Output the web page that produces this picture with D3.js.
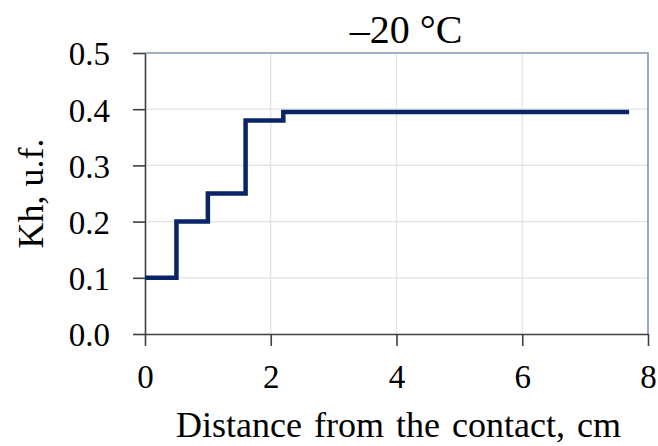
<!DOCTYPE html>
<html>
<head>
<meta charset="utf-8">
<script src="https://cdn.jsdelivr.net/npm/d3@7"></script>
<style>
  html, body { margin: 0; padding: 0; background: #fff; }
  svg { display: block; font-family: "Liberation Serif", "Times New Roman", serif; }
</style>
</head>
<body>
<svg id="chart" width="658" height="446"></svg>
<script>
// Step profile of Kh along the distance from the contact (–20 °C)
const distanceCm = [0, 0.5, 1.0, 1.6, 2.2, 7.7];
const khValues   = [0.10, 0.20, 0.25, 0.38, 0.395, 0.395];
const xTicks = [0, 2, 4, 6, 8];
const yTicks = [0.0, 0.1, 0.2, 0.3, 0.4, 0.5];
const titleText = "–20 °C";
const xLabel = "Distance from the contact, cm";
const yLabel = "Kh, u.f.";

const svg = d3.select("#chart");
const plot = { left: 145, right: 648, top: 53, bottom: 334 };

const x = d3.scaleLinear().domain([0, 8]).range([plot.left, plot.right]);
const y = d3.scaleLinear().domain([0, 0.5]).range([plot.bottom, plot.top]);

// gridlines
const grid = svg.append("g");
grid.selectAll("line.gx").data(xTicks.filter(d => d > 0 && d < 8)).join("line")
  .attr("x1", d => x(d)).attr("x2", d => x(d))
  .attr("y1", plot.top).attr("y2", plot.bottom)
  .attr("stroke", "#e3e3e3").attr("stroke-width", 1.2);
grid.selectAll("line.gy").data(yTicks.filter(d => d > 0 && d < 0.5)).join("line")
  .attr("x1", plot.left).attr("x2", plot.right)
  .attr("y1", d => y(d)).attr("y2", d => y(d))
  .attr("stroke", "#e3e3e3").attr("stroke-width", 1.2);

// frame on top and right
svg.append("path")
  .attr("d", `M${plot.left},${plot.top}H${plot.right}V${plot.bottom}`)
  .attr("fill", "none").attr("stroke", "#8496ae").attr("stroke-width", 1.6);

// axes
const axisColor = "#404040";
const gx = svg.append("g").attr("transform", `translate(0,${plot.bottom})`)
  .call(d3.axisBottom(x).tickValues(xTicks).tickFormat(d3.format("d")).tickSize(12).tickSizeOuter(0));
const gy = svg.append("g").attr("transform", `translate(${plot.left},0)`)
  .call(d3.axisLeft(y).tickValues(yTicks).tickFormat(d3.format(".1f")).tickSize(12).tickSizeOuter(0));

[gx, gy].forEach(g => {
  g.select(".domain").attr("stroke", axisColor).attr("stroke-width", 1.6);
  g.selectAll(".tick line").attr("stroke", axisColor).attr("stroke-width", 1.6);
  g.selectAll(".tick text")
    .attr("fill", "#000")
    .style("font-family", "'Liberation Serif', 'Times New Roman', serif")
    .style("font-size", "33px");
});
gx.selectAll(".tick text").attr("y", 54).attr("dy", 0);
gy.selectAll(".tick text").attr("x", -35).attr("dy", "0.36em");

// step line
const line = d3.line()
  .x((d, i) => x(distanceCm[i]))
  .y(d => y(d))
  .curve(d3.curveStepAfter);
svg.append("path")
  .datum(khValues)
  .attr("d", line)
  .attr("fill", "none")
  .attr("stroke", "#0a2468")
  .attr("stroke-width", 4.5)
  .attr("stroke-linejoin", "miter");

// title and axis labels
svg.append("text")
  .attr("x", 406).attr("y", 43)
  .attr("text-anchor", "middle")
  .style("font-size", "40px")
  .text(titleText);

svg.append("text")
  .attr("x", (plot.left + plot.right) / 2 + 2).attr("y", 437)
  .attr("text-anchor", "middle")
  .style("font-size", "36px")
  .style("word-spacing", "3px")
  .text(xLabel);

svg.append("text")
  .attr("transform", `translate(43,${(plot.top + plot.bottom) / 2}) rotate(-90)`)
  .attr("text-anchor", "middle")
  .style("font-size", "36px")
  .text(yLabel);
</script>
</body>
</html>
